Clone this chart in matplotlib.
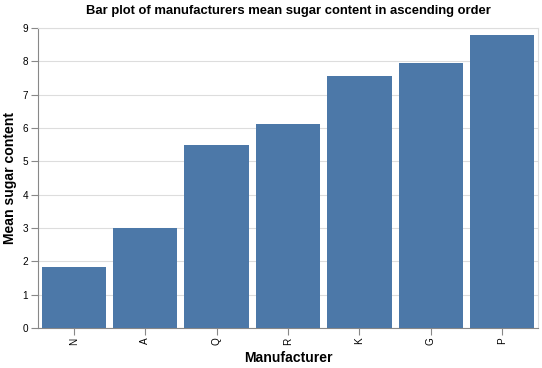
import matplotlib
matplotlib.use("Agg")
import matplotlib.pyplot as plt

manufacturers = ["N", "A", "Q", "R", "K", "G", "P"]
mean_sugar = [1.833, 3.0, 5.5, 6.125, 7.565, 7.955, 8.778]
y_ticks = [0, 1, 2, 3, 4, 5, 6, 7, 8, 9]

plt.rcParams['font.family'] = ['Liberation Sans', 'DejaVu Sans']

W, H = 542, 368
fig = plt.figure(figsize=(W/100, H/100), dpi=100)
ax = fig.add_axes([38/W, 1-328/H, 500/W, 300/H])

x = list(range(len(manufacturers)))
ax.bar(x, mean_sugar, width=0.9, color="#4c78a8", zorder=3)
ax.set_xlim(-0.5, len(manufacturers)-0.5)
ax.set_ylim(0, 9)
ax.set_yticks(y_ticks)
ax.set_xticks(x)
ax.set_xticklabels(manufacturers, rotation=90, fontsize=7.2, color="#000000")
ax.tick_params(axis='y', labelsize=7.2, length=5, width=0.8, color="#888888", pad=2)
ax.tick_params(axis='x', length=5, width=0.8, color="#888888", pad=2)
ax.grid(axis='y', color="#dddddd", linewidth=0.8, zorder=0)
ax.set_axisbelow(True)
for s in ['top', 'right']:
    ax.spines[s].set_color("#dddddd")
    ax.spines[s].set_linewidth(0.8)
for s in ['left', 'bottom']:
    ax.spines[s].set_color("#888888")
    ax.spines[s].set_linewidth(0.8)

ax.set_xlabel("Manufacturer", fontsize=10.08, fontweight='bold', labelpad=4)
ax.set_ylabel("Mean sugar content", fontsize=10.08, fontweight='bold', labelpad=4)
fig.text((38+538)/2/W, 1-11/H, "Bar plot of manufacturers mean sugar content in ascending order",
         ha='center', va='center', fontsize=9.36, fontweight='bold')

fig.savefig("out.png", dpi=100)
